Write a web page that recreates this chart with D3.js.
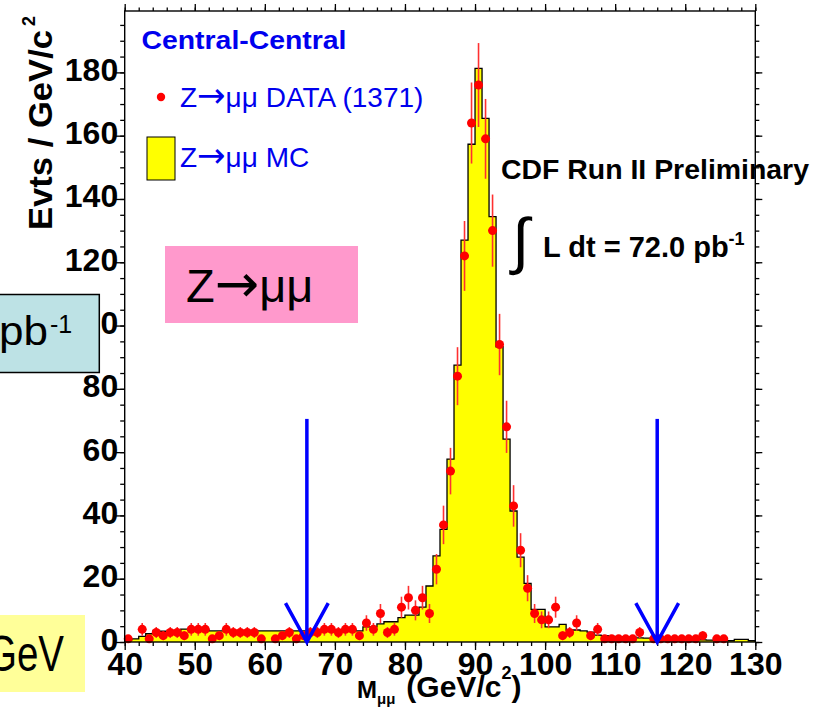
<!DOCTYPE html>
<html>
<head>
<meta charset="utf-8">
<script src="https://cdn.jsdelivr.net/npm/d3@7"></script>
<style>
  html, body { margin: 0; padding: 0; background: #ffffff; overflow: hidden; }
  svg { display: block; font-family: "Liberation Sans", Arial, Helvetica, sans-serif; }
</style>
</head>
<body>
<svg id="chart" width="826" height="709"></svg>
<script>
// Dimuon invariant mass, 1 GeV/c^2 bins; lower bin edges 40 ... 129
const massBinLow = d3.range(40, 130, 1);

// Observed events per bin (bins 40 ... 129)
const dataCounts = [
  1, 0, 4, 1, 3, 2, 3, 3, 2, 4,
  4, 4, 1, 2, 4, 3, 3, 3, 3, 1,
  0, 1, 2, 3, 1, 2, 3, 3, 4, 4,
  3, 4, 4, 2, 6, 4, 9, 3, 4, 11,
  14, 10, 14, 9, 23, 37, 54, 84, 122, 164,
  176, 159, 130, 94, 68, 43, 29, 17, 9, 7,
  7, 11, 2, 3, 6, 0, 2, 4, 1, 1,
  1, 1, 1, 3, 0, 1, 1, 1, 1, 1,
  1, 1, 2, 0, 1, 1, 0, 0, 0, 0
];

// Simulated Z -> mu mu expectation per bin (bins 40 ... 129)
const mcExpected = [
  0.7, 1.0, 1.8, 2.6, 3.4, 3.4, 3.4, 3.4, 4.1, 4.1,
  4.1, 4.1, 3.5, 3.5, 3.5, 3.5, 3.5, 3.5, 3.5, 3.5,
  3.5, 3.5, 3.5, 3.5, 3.5, 3.5, 3.5, 3.5, 3.5, 3.7,
  3.7, 3.7, 3.7, 3.5, 4.8, 4.8, 5.7, 6.4, 6.4, 7.7,
  8.5, 8.5, 11.0, 17.7, 27.2, 35.6, 57.8, 87.5, 127.0, 157.3,
  181.3, 165.5, 134.4, 93.3, 64.1, 41.4, 26.8, 18.5, 10.3, 10.3,
  4.8, 4.8, 5.6, 3.8, 3.8, 3.5, 3.1, 2.2, 2.0, 1.8,
  1.7, 1.6, 1.5, 1.3, 1.2, 1.1, 1.0, 1.0, 0.9, 0.9,
  0.8, 0.8, 0.7, 0.6, 0.5, 0.5, 0.4, 0.8, 0.8, 0.4
];

const xMajorTicks = [40, 50, 60, 70, 80, 90, 100, 110, 120, 130];
const xMinorTicks = d3.range(40, 131, 2);
const yMajorTicks = [0, 20, 40, 60, 80, 100, 120, 140, 160, 180];
const yMinorTicks = d3.range(0, 196, 5);
const yMax = 199.4;

// Mass window selection cuts, GeV/c^2
const massWindow = [66, 116];

const svg = d3.select("#chart");
const frame = { left: 124.7, right: 755.3, top: 11, bottom: 642 };

const x = d3.scaleLinear().domain([40, 130]).range([frame.left, frame.right]);
const y = d3.scaleLinear().domain([0, yMax]).range([frame.bottom, frame.top]);

const bins = massBinLow.map((m, i) => ({ m, n: dataCounts[i], mc: mcExpected[i] }));

// ---------- axes (ticks point outward, ROOT style frame) ----------
const axisStyle = g => {
  g.select(".domain").remove();
  g.selectAll(".tick line").attr("stroke", "#000").attr("stroke-width", 1.3);
};

// bottom
svg.append("g")
  .attr("transform", `translate(0,${frame.bottom})`)
  .call(d3.axisBottom(x).tickValues(xMinorTicks).tickSize(4).tickFormat(""))
  .call(axisStyle);
const gxb = svg.append("g")
  .attr("transform", `translate(0,${frame.bottom})`)
  .call(d3.axisBottom(x).tickValues(xMajorTicks).tickSize(8).tickFormat(d3.format("d")))
  .call(axisStyle);
gxb.selectAll("text")
  .attr("y", 33).attr("dy", null)
  .attr("fill", "#000")
  .style("font-size", "32px").style("font-weight", "bold")
  .style("font-family", "'Liberation Sans', Arial, sans-serif");

// top
svg.append("g")
  .attr("transform", `translate(0,${frame.top})`)
  .call(d3.axisTop(x).tickValues(xMinorTicks).tickSize(3.5).tickFormat(""))
  .call(axisStyle);
svg.append("g")
  .attr("transform", `translate(0,${frame.top})`)
  .call(d3.axisTop(x).tickValues(xMajorTicks).tickSize(7).tickFormat(""))
  .call(axisStyle);

// left
svg.append("g")
  .attr("transform", `translate(${frame.left},0)`)
  .call(d3.axisLeft(y).tickValues(yMinorTicks).tickSize(4.5).tickFormat(""))
  .call(axisStyle);
const gyl = svg.append("g")
  .attr("transform", `translate(${frame.left},0)`)
  .call(d3.axisLeft(y).tickValues(yMajorTicks).tickSize(9).tickFormat(d3.format("d")))
  .call(axisStyle);
gyl.selectAll("text")
  .attr("x", -6.5).attr("y", 8).attr("dy", null)
  .attr("fill", "#000")
  .style("font-size", "32px").style("font-weight", "bold")
  .style("font-family", "'Liberation Sans', Arial, sans-serif");

// right
svg.append("g")
  .attr("transform", `translate(${frame.right},0)`)
  .call(d3.axisRight(y).tickValues(yMinorTicks).tickSize(4).tickFormat(""))
  .call(axisStyle);
svg.append("g")
  .attr("transform", `translate(${frame.right},0)`)
  .call(d3.axisRight(y).tickValues(yMajorTicks).tickSize(7).tickFormat(""))
  .call(axisStyle);

// ---------- MC histogram ----------
const stepPts = bins.map(b => ({ m: b.m, v: b.mc }));
stepPts.push({ m: 130, v: bins[bins.length - 1].mc });

svg.append("path")
  .datum(stepPts)
  .attr("fill", "#ffff00")
  .attr("d", d3.area().curve(d3.curveStepAfter)
    .x(d => x(d.m)).y0(y(0)).y1(d => y(d.v)));

const outlinePts = [{ m: 40, v: 0 }, ...stepPts, { m: 130, v: 0 }];
svg.append("path")
  .datum(outlinePts)
  .attr("fill", "none")
  .attr("stroke", "#000")
  .attr("stroke-width", 1.3)
  .attr("d", d3.line().curve(d3.curveStepAfter).x(d => x(d.m)).y(d => y(d.v)));

// ---------- data points with Poisson errors ----------
const pts = bins.filter(b => b.n > 0);
svg.append("g").selectAll("line")
  .data(pts).join("line")
  .attr("x1", d => x(d.m + 0.5)).attr("x2", d => x(d.m + 0.5))
  .attr("y1", d => y(d.n - Math.sqrt(d.n))).attr("y2", d => y(d.n + Math.sqrt(d.n)))
  .attr("stroke", "#ff3030").attr("stroke-width", 1.6);
svg.append("g").selectAll("circle")
  .data(pts).join("circle")
  .attr("cx", d => x(d.m + 0.5)).attr("cy", d => y(d.n))
  .attr("r", 4.5).attr("fill", "#ff0000");

// ---------- frame ----------
svg.append("rect")
  .attr("x", frame.left).attr("y", frame.top)
  .attr("width", frame.right - frame.left).attr("height", frame.bottom - frame.top)
  .attr("fill", "none").attr("stroke", "#000").attr("stroke-width", 1.4);

// ---------- mass window arrows ----------
const arrowG = svg.append("g").attr("stroke", "#0000ff").attr("stroke-width", 3.5)
  .attr("fill", "none").attr("stroke-linecap", "butt");
massWindow.forEach(m => {
  arrowG.append("line")
    .attr("x1", x(m)).attr("x2", x(m)).attr("y1", y(70.5)).attr("y2", y(0));
  arrowG.append("path")
    .attr("stroke-linejoin", "miter")
    .attr("d", `M${x(m - 3.05)},${y(12.3)} L${x(m)},${y(0)} L${x(m + 3.05)},${y(12.3)}`);
});

// ---------- labels ----------
const bold = "bold";
const arrowFont = "'DejaVu Sans', sans-serif";

// "Z -> mu mu" with a long thin arrow glyph
function zmumu(sel, size, arrowSize, extra) {
  sel.append("tspan").text("Z");
  sel.append("tspan").attr("font-family", arrowFont).attr("font-size", arrowSize).text("→");
  sel.append("tspan").text("μμ" + (extra || ""));
}

// y title
svg.append("text")
  .attr("transform", "translate(52,230) rotate(-90)")
  .attr("font-size", 34).attr("font-weight", bold).attr("fill", "#000")
  .attr("textLength", 200).attr("lengthAdjust", "spacingAndGlyphs")
  .text("Evts / GeV/c");
svg.append("text")
  .attr("transform", "translate(35,26) rotate(-90)")
  .attr("font-size", 18).attr("font-weight", bold).attr("fill", "#000")
  .text("2");

// x title
const xt = svg.append("text")
  .attr("x", 357).attr("y", 698)
  .attr("font-weight", bold).attr("fill", "#000");
xt.append("tspan").attr("font-size", 24).text("M");
xt.append("tspan").attr("font-size", 15).attr("dy", 6).text("μμ");
xt.append("tspan").attr("font-size", 30).attr("dy", -7).attr("dx", 11).text("(GeV/c");
xt.append("tspan").attr("font-size", 18).attr("dy", -18).text("2");
xt.append("tspan").attr("font-size", 30).attr("dy", 18).text(")");

// legend block
svg.append("text")
  .attr("x", 141.5).attr("y", 49)
  .attr("font-size", 26).attr("font-weight", bold).attr("fill", "#0000ee")
  .attr("textLength", 205).attr("lengthAdjust", "spacingAndGlyphs")
  .text("Central-Central");

svg.append("circle").attr("cx", 161).attr("cy", 97).attr("r", 4.2).attr("fill", "#ff0000");
svg.append("text")
  .attr("x", 180).attr("y", 107)
  .attr("font-size", 28).attr("fill", "#0000ee")
  .call(zmumu, 28, 34, " DATA (1371)");

svg.append("rect")
  .attr("x", 147).attr("y", 137).attr("width", 28).attr("height", 43)
  .attr("fill", "#ffff00").attr("stroke", "#000").attr("stroke-width", 1);
svg.append("text")
  .attr("x", 180).attr("y", 166.5)
  .attr("font-size", 28).attr("fill", "#0000ee")
  .call(zmumu, 28, 34, " MC");

// experiment label
svg.append("text")
  .attr("x", 501).attr("y", 179)
  .attr("font-size", 28).attr("font-weight", bold).attr("fill", "#000")
  .attr("textLength", 308).attr("lengthAdjust", "spacingAndGlyphs")
  .text("CDF Run II Preliminary");

svg.append("text")
  .attr("x", 512).attr("y", 262)
  .attr("font-size", 62).attr("fill", "#000")
  .text("∫");
const lumi = svg.append("text")
  .attr("x", 543).attr("y", 256.5)
  .attr("font-size", 29).attr("font-weight", bold).attr("fill", "#000");
lumi.append("tspan").text("L dt = 72.0 pb");
lumi.append("tspan").attr("font-size", 18).attr("dy", -12).text("-1");

// ---------- annotation boxes ----------
svg.append("rect")
  .attr("x", 165).attr("y", 246).attr("width", 193).attr("height", 77)
  .attr("fill", "#ff99cc");
svg.append("text")
  .attr("x", 186).attr("y", 302)
  .attr("font-size", 47).attr("fill", "#000")
  .call(zmumu, 47, 53);

svg.append("rect")
  .attr("x", -2).attr("y", 294.5).attr("width", 101.3).attr("height", 78)
  .attr("fill", "#bde2e5").attr("stroke", "#000").attr("stroke-width", 1.5);
svg.append("text")
  .attr("x", -1).attr("y", 345)
  .attr("font-size", 40).attr("fill", "#000")
  .attr("textLength", 49).attr("lengthAdjust", "spacingAndGlyphs")
  .text("pb");
svg.append("text")
  .attr("x", 50).attr("y", 333)
  .attr("font-size", 25).attr("fill", "#000")
  .text("-1");

svg.append("rect")
  .attr("x", -2).attr("y", 615).attr("width", 87).attr("height", 77)
  .attr("fill", "#ffff99");
svg.append("text")
  .attr("x", -13).attr("y", 671)
  .attr("font-size", 50).attr("fill", "#000")
  .attr("textLength", 77).attr("lengthAdjust", "spacingAndGlyphs")
  .text("GeV");
</script>
</body>
</html>
